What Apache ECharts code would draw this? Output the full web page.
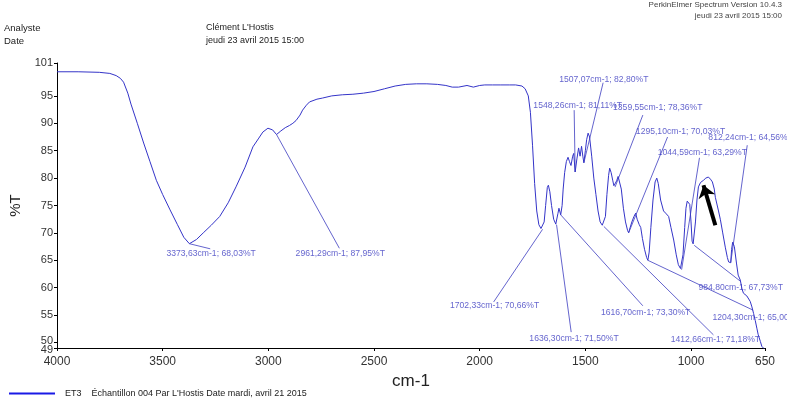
<!DOCTYPE html>
<html>
<head>
<meta charset="utf-8">
<script src="https://cdn.jsdelivr.net/npm/echarts@6/dist/echarts.min.js"></script>
<style>
html,body{margin:0;padding:0;background:#fff;}
#chart{width:787px;height:407px;}
</style>
</head>
<body>
<div id="chart"></div>
<script>
// ---- spectrum data (cm-1, %T) ----
const wavenumbers = [4000,3900,3800,3750,3720,3700,3685,3665,3650,3620,3590,3560,3530,3500,3465,3430,3400,3373.63,3340,3308,3270,3230,3190,3153,3110,3073,3045,3026,3002,2980,2961.29,2941,2920,2900,2884,2869,2850,2838,2820,2805,2770,2744,2700,2650,2600,2550,2500,2450,2400,2350,2300,2250,2200,2160,2130,2100,2060,2030,2000,1976,1940,1900,1860,1830,1800,1785,1770,1760,1750,1740,1730,1720,1710,1702.33,1695,1688,1680,1675,1668,1660,1650,1640,1636.3,1630,1625,1620,1616.7,1610,1605,1598,1590,1582,1575,1568,1560,1555,1548.26,1540,1532,1525,1518,1512,1507.07,1500,1494,1487,1480,1470,1460,1450,1440,1430,1420,1412.66,1405,1398,1390,1385,1378,1370,1365,1359.55,1352,1345,1338,1330,1320,1310,1300,1295.1,1288,1280,1270,1262,1255,1245,1238,1230,1220,1210,1204.3,1198,1190,1180,1170,1162,1155,1144,1130,1120,1106,1095,1082,1070,1060,1050,1044.59,1038,1030,1024,1018,1012,1006,1000,995,990,984.8,979,972,965,955,941,930,918,908,899,890,885,870,861,850,838,828,822,812.24,808,803,795,785,777,767,759,752,744,736,729,720,712,704,696,688,682,672,665,650];
const transmittance = [99.4,99.4,99.3,99.1,98.7,98.2,97.5,95.5,93.5,90,86.4,83,79.6,77,74.2,71.5,69.2,68.03,68.8,70,71.4,73,75.5,78.4,82,85.7,87.3,88.4,89.1,88.8,87.95,88.6,89.2,89.6,90,90.5,91.5,92.4,93.3,93.9,94.4,94.6,95,95.2,95.3,95.5,95.8,96.3,96.8,97.1,97.2,97.2,97.1,96.9,96.6,96.6,96.9,96.6,96.9,97,97,97,97,97,96.8,96.3,95,92,86,79,74,71.5,70.8,70.66,72,75,78.3,78.7,77.5,75,72.5,71.6,71.5,73.5,74.5,73.8,73.3,75,78,81,83,83.8,83,82.3,84,84.5,81.11,83.5,85.5,84,85.8,84,82.8,85,87,88.2,87.5,84,80,77,74,72,71.4,71.18,73,77,80.5,81.8,81,79.5,78.6,78.36,79.5,80.3,80,78,74.5,72,70.4,70.03,71,72,73,73.6,72.5,71.5,71,69,67,65.5,65,66.5,71,76,79.3,80,79,76,74,73.6,73,71,68.7,66,64.2,63.5,63.29,66,71,74.5,75.8,76,75.2,72,68.5,68,67.73,72,76,78.4,79.2,79.6,80,80.2,79.8,79.3,78,76.5,74,72.4,70,67.4,65.5,64.7,64.56,67,68.3,67.5,64.5,62.3,61.4,59.8,59,58.7,58.5,58.3,57.5,56.5,55.3,54,52.5,51.4,50.2,49.3,48.7];

// ---- annotated peaks ----
const peakWavenumbers   = [3373.63, 2961.29, 1702.33, 1636.30, 1616.70, 1548.26, 1507.07, 1359.55, 1295.10, 1044.59, 812.24, 984.80, 1204.30, 1412.66];
const peakTransmittance = [68.03, 87.95, 70.66, 71.50, 73.30, 81.11, 82.80, 78.36, 70.03, 63.29, 64.56, 67.73, 65.00, 71.18];
// label text anchor (left-middle of text) and leader-line end, in axis units
const labelAnchorWn = [3482, 2871, 2141, 1765, 1426, 1746, 1624, 1369, 1261, 1158, 918, 965, 899, 1096];
const labelAnchorT  = [66.3, 66.3, 56.7, 50.8, 55.4, 93.3, 97.9, 92.8, 88.4, 84.6, 87.3, 60.0, 54.6, 50.5];
const leaderEndWn   = [3275, 2664, 1934, 1567, 1228, 1553, 1416, 1228, 1111, 960, 734, 767, 706, 894];
const leaderEndT    = [67.1, 67.2, 57.4, 51.9, 56.7, 92.4, 97.4, 91.5, 87.5, 83.7, 86.0, 61.2, 55.9, 51.4];
// hand-drawn arrow (tail -> head)
const arrowWn = [885, 941];
const arrowT  = [71.4, 78.7];

// ---- axis ticks ----
const xTicks = [4000, 3500, 3000, 2500, 2000, 1500, 1000, 650];
const yTicks = [101, 95, 90, 85, 80, 75, 70, 65, 60, 55, 50];
const yMinTick = [49];

const seriesName = "ET3    Échantillon 004 Par L'Hostis Date mardi, avril 21 2015";
const curveColor = '#3434c8';
const annColor = '#3c3cc0';

function fmt(v) { return v.toFixed(2).replace('.', ','); }

const leaderLines = peakWavenumbers.map((w, i) => [
  { coord: [w, peakTransmittance[i]] },
  { coord: [leaderEndWn[i], leaderEndT[i]] }
]);
const labelPoints = peakWavenumbers.map((w, i) => ({
  value: [labelAnchorWn[i], labelAnchorT[i]],
  text: fmt(w) + 'cm-1; ' + fmt(peakTransmittance[i]) + '%T'
}));

const FONT = '"Liberation Sans", Arial, sans-serif';
const chart = echarts.init(document.getElementById('chart'), null, { renderer: 'canvas' });

chart.setOption({
  animation: false,
  backgroundColor: '#ffffff',
  textStyle: { fontFamily: FONT },
  grid: { left: 53, right: 22, top: 63, bottom: 59, containLabel: false },
  legend: {
    data: [seriesName],
    left: 4, bottom: 4,
    icon: 'rect', itemWidth: 46, itemHeight: 2,
    itemGap: 0,
    textStyle: { fontSize: 9, color: '#222', fontFamily: FONT, padding: [0, 0, 0, 5] }
  },
  xAxis: {
    type: 'value', inverse: true, min: 650, max: 4000,
    name: 'cm-1', nameLocation: 'middle', nameGap: 21,
    nameTextStyle: { fontSize: 17, color: '#222', fontFamily: FONT },
    axisLine: { show: true, lineStyle: { color: '#000', width: 1 } },
    axisTick: { show: true, length: 3, customValues: xTicks, lineStyle: { color: '#000' } },
    axisLabel: {
      customValues: xTicks, fontSize: 12, color: '#333', margin: 8, fontFamily: FONT,
      showMinLabel: true, showMaxLabel: true, hideOverlap: false,
      formatter: function (v) { return String(v); }
    },
    splitLine: { show: false }
  },
  yAxis: [
    {
      type: 'value', min: 49, max: 101, position: 'left',
      name: '%T', nameLocation: 'middle', nameGap: 34,
      nameTextStyle: { fontSize: 15, color: '#222', fontFamily: FONT },
      axisLine: { show: true, lineStyle: { color: '#000', width: 1 } },
      axisTick: { show: true, length: 3, customValues: yTicks, lineStyle: { color: '#000' } },
      axisLabel: {
        customValues: yTicks, fontSize: 11, color: '#333', margin: 4, fontFamily: FONT,
        showMinLabel: true, showMaxLabel: true,
        formatter: function (v) { return v === 50 ? '{up|50}' : String(v); },
        rich: { up: { fontSize: 11, color: '#333', padding: [0, 0, 4, 0], fontFamily: FONT } }
      },
      splitLine: { show: false }
    },
    {
      type: 'value', min: 49, max: 101, position: 'left', offset: 0,
      axisLine: { show: false },
      axisTick: { show: true, length: 3, customValues: yMinTick, lineStyle: { color: '#000' } },
      axisLabel: {
        customValues: yMinTick, fontSize: 11, color: '#333', margin: 4, fontFamily: FONT,
        showMinLabel: true,
        formatter: function (v) { return '{dn|' + v + '}'; },
        rich: { dn: { fontSize: 11, color: '#333', padding: [4, 0, 0, 0], fontFamily: FONT } }
      },
      splitLine: { show: false }
    }
  ],
  series: [
    {
      name: seriesName,
      type: 'line',
      yAxisIndex: 0,
      data: wavenumbers.map((w, i) => [w, transmittance[i]]),
      showSymbol: false,
      symbol: 'none',
      lineStyle: { color: curveColor, width: 1 },
      itemStyle: { color: '#1a1ae6' },
      z: 3,
      markLine: {
        silent: true,
        symbol: ['none', 'none'],
        label: { show: false },
        lineStyle: { color: annColor, width: 0.8, type: 'solid' },
        data: leaderLines.concat([[
          { coord: [arrowWn[0], arrowT[0]], symbol: 'none', lineStyle: { color: '#000', width: 4 } },
          { coord: [arrowWn[1], arrowT[1]], symbol: 'arrow', symbolSize: [13, 12], lineStyle: { color: '#000', width: 4 } }
        ]])
      }
    },
    {
      name: 'labels',
      type: 'scatter',
      yAxisIndex: 0,
      data: labelPoints,
      symbolSize: 0,
      silent: true,
      z: 5,
      label: {
        show: true,
        position: [0, 0],
        align: 'left',
        verticalAlign: 'middle',
        fontSize: 8.6,
        color: annColor,
        fontFamily: FONT,
        formatter: function (p) { return p.data.text; }
      }
    }
  ],
  graphic: [
    { type: 'text', left: 4, top: 23, style: { text: 'Analyste', fontSize: 9.5, fill: '#222', fontFamily: FONT } },
    { type: 'text', left: 4, top: 36, style: { text: 'Date', fontSize: 9.5, fill: '#222', fontFamily: FONT } },
    { type: 'text', left: 206, top: 23, style: { text: "Clément L'Hostis", fontSize: 9, fill: '#222', fontFamily: FONT } },
    { type: 'text', left: 206, top: 36, style: { text: 'jeudi 23 avril 2015 15:00', fontSize: 9, fill: '#222', fontFamily: FONT } },
    { type: 'text', right: 5, top: 1, style: { text: 'PerkinElmer Spectrum Version 10.4.3', fontSize: 8, fill: '#444', fontFamily: FONT } },
    { type: 'text', right: 5, top: 12, style: { text: 'jeudi 23 avril 2015 15:00', fontSize: 8, fill: '#444', fontFamily: FONT } }
  ]
});
</script>
</body>
</html>
